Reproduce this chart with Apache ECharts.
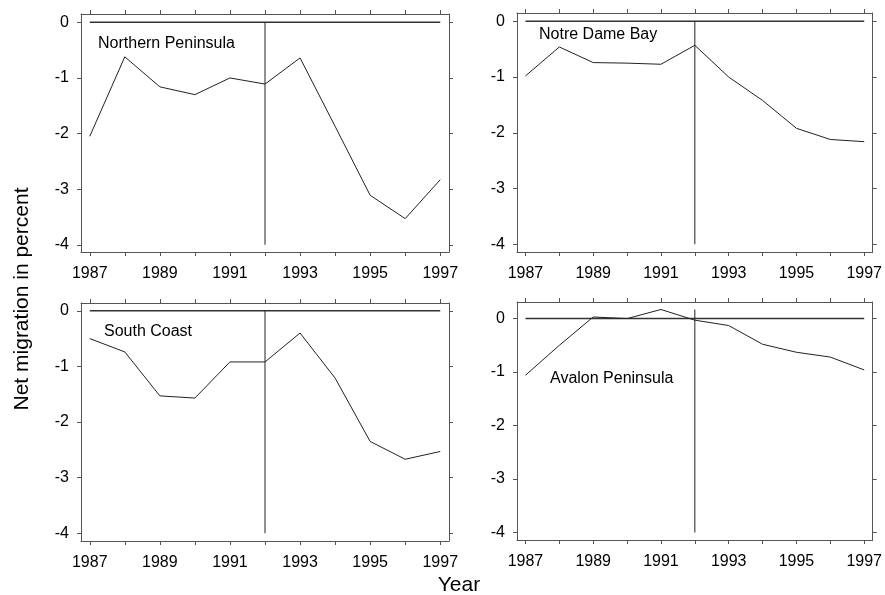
<!DOCTYPE html>
<html>
<head>
    <meta charset="utf-8">
    <title>Net migration</title>
    <script src="https://cdn.jsdelivr.net/npm/echarts@6/dist/echarts.min.js"></script>
    <style>
        html,body{
            height: 100%;
            margin: 0;
            padding: 0;
            background: #fff;
        }
    </style>
</head>
<body>
    <div id="main" style="width: 885px;height:595px;"></div>
    <script type="text/javascript">
    // data
    var years = [1987, 1988, 1989, 1990, 1991, 1992, 1993, 1994, 1995, 1996, 1997];
    var yearLabels = [1987, 1989, 1991, 1993, 1995, 1997];
    var yTicks = [-4, -3, -2, -1, 0];
    var breakYear = 1992;

    var northernPeninsula = [-2.05, -0.62, -1.16, -1.30, -1.00, -1.11, -0.64, -1.87, -3.11, -3.53, -2.83];
    var notreDameBay      = [-0.98, -0.46, -0.74, -0.75, -0.77, -0.43, -1.00, -1.42, -1.92, -2.12, -2.16];
    var southCoast        = [-0.50, -0.74, -1.53, -1.57, -0.92, -0.92, -0.40, -1.21, -2.35, -2.67, -2.53];
    var avalonPeninsula   = [-1.06, -0.50, 0.03, 0.00, 0.17, -0.03, -0.13, -0.48, -0.63, -0.72, -0.96];

    var panels = [
        {name: 'Northern Peninsula', values: northernPeninsula, vTop: 0},
        {name: 'Notre Dame Bay', values: notreDameBay, vTop: 0},
        {name: 'South Coast', values: southCoast, vTop: 0},
        {name: 'Avalon Peninsula', values: avalonPeninsula, vTop: 0.17}
    ];

    // layout of each panel (px)
    var boxes = [
        {left: 81,  top: 14,  width: 368, height: 238, ymin: -4.13, ymax: 0.15, lx: 98,  ly: 36},
        {left: 517, top: 13,  width: 368, height: 239, ymin: -4.14, ymax: 0.15, lx: 539, ly: 27},
        {left: 81,  top: 303, width: 368, height: 238, ymin: -4.14, ymax: 0.14, lx: 104, ly: 324},
        {left: 517, top: 302, width: 368, height: 238, ymin: -4.14, ymax: 0.31, lx: 550, ly: 371}
    ];

    var FONT = 'Liberation Sans, Arial, sans-serif';
    var frameColor = '#555';
    var lineColor = '#222';
    var textColor = '#000';

    var option = {
        backgroundColor: '#fff',
        animation: false,
        textStyle: {fontFamily: FONT},
        title: [],
        grid: [],
        xAxis: [],
        yAxis: [],
        series: [],
        graphic: [
            {
                type: 'text',
                x: 22, y: 299,
                rotation: Math.PI / 2,
                style: {text: 'Net migration in percent', font: '21px ' + FONT, fill: textColor, textAlign: 'center', textVerticalAlign: 'middle'}
            },
            {
                type: 'text',
                x: 459, y: 585,
                style: {text: 'Year', font: '21px ' + FONT, fill: textColor, textAlign: 'center', textVerticalAlign: 'middle'}
            }
        ]
    };

    for (var i = 0; i < panels.length; i++) {
        var b = boxes[i];
        var p = panels[i];
        option.grid.push({left: b.left, top: b.top, width: b.width, height: b.height, containLabel: false});

        var tickStyle = {show: true, inside: false, length: 4, lineStyle: {color: frameColor, width: 1}, customValues: years};
        option.xAxis.push({
            type: 'value', gridIndex: i, min: 1986.75, max: 1997.25, position: 'bottom',
            axisLine: {show: true, onZero: false, lineStyle: {color: frameColor, width: 1}},
            axisTick: tickStyle,
            axisLabel: {show: true, customValues: yearLabels, margin: 14, color: textColor, fontSize: 16, fontFamily: FONT,
                formatter: function (v) { return String(v); }},
            splitLine: {show: false}
        });
        option.xAxis.push({
            type: 'value', gridIndex: i, min: 1986.75, max: 1997.25, position: 'top',
            axisLine: {show: true, onZero: false, lineStyle: {color: frameColor, width: 1}},
            axisTick: tickStyle,
            axisLabel: {show: false},
            splitLine: {show: false}
        });
        var yTickStyle = {show: true, inside: false, length: 4, lineStyle: {color: frameColor, width: 1}, customValues: yTicks};
        option.yAxis.push({
            type: 'value', gridIndex: i, min: b.ymin, max: b.ymax, position: 'left',
            axisLine: {show: true, onZero: false, lineStyle: {color: frameColor, width: 1}},
            axisTick: yTickStyle,
            axisLabel: {show: true, customValues: yTicks, margin: 12, color: textColor, fontSize: 16, fontFamily: FONT,
                formatter: function (v) { return String(v); }},
            splitLine: {show: false}
        });
        option.yAxis.push({
            type: 'value', gridIndex: i, min: b.ymin, max: b.ymax, position: 'right',
            axisLine: {show: true, onZero: false, lineStyle: {color: frameColor, width: 1}},
            axisTick: yTickStyle,
            axisLabel: {show: false},
            splitLine: {show: false}
        });

        option.title.push({
            text: p.name, left: b.lx, top: b.ly, padding: 0,
            textStyle: {fontSize: 16, fontWeight: 'normal', color: textColor, fontFamily: FONT}
        });

        var pts = [];
        for (var k = 0; k < years.length; k++) pts.push([years[k], p.values[k]]);

        // zero reference line
        option.series.push({
            type: 'line', xAxisIndex: 2 * i, yAxisIndex: 2 * i,
            data: [[years[0], 0], [years[years.length - 1], 0]],
            symbol: 'none', silent: true,
            lineStyle: {color: '#333', width: 1.5}
        });
        // 1992 break line
        option.series.push({
            type: 'line', xAxisIndex: 2 * i, yAxisIndex: 2 * i,
            data: [[breakYear, p.vTop], [breakYear, -4]],
            symbol: 'none', silent: true,
            lineStyle: {color: lineColor, width: 1}
        });
        option.series.push({
            type: 'line', xAxisIndex: 2 * i, yAxisIndex: 2 * i,
            data: pts, symbol: 'none', silent: true,
            lineStyle: {color: lineColor, width: 1}
        });
    }

    var myChart = echarts.init(document.getElementById('main'), null, {renderer: 'canvas'});
    myChart.setOption(option);
    </script>
</body>
</html>
